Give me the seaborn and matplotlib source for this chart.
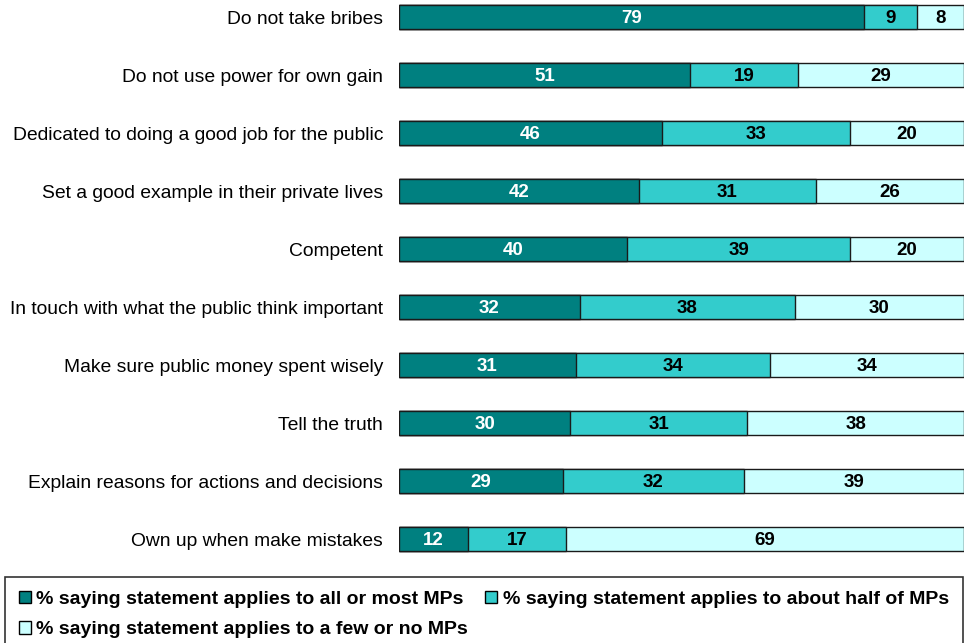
import numpy as np
import pandas as pd
import seaborn as sns
import matplotlib.pyplot as plt
from matplotlib.patches import Patch

statements = [
    "Do not take bribes",
    "Do not use power for own gain",
    "Dedicated to doing a good job for the public",
    "Set a good example in their private lives",
    "Competent",
    "In touch with what the public think important",
    "Make sure public money spent wisely",
    "Tell the truth",
    "Explain reasons for actions and decisions",
    "Own up when make mistakes",
]
all_most = [79, 51, 46, 42, 40, 32, 31, 30, 29, 12]
about_half = [9, 19, 33, 31, 39, 38, 34, 31, 32, 17]
few_none = [8, 29, 20, 26, 20, 30, 34, 38, 39, 69]

series_names = [
    "% saying statement applies to all or most MPs",
    "% saying statement applies to about half of MPs",
    "% saying statement applies to a few or no MPs",
]
colors = ["#008080", "#33CCCC", "#CCFFFF"]
text_colors = ["white", "black", "black"]

sns.set_theme(style="white")
plt.rcParams["font.family"] = ["Liberation Sans", "DejaVu Sans"]

raw = np.array([all_most, about_half, few_none], dtype=float)
share = raw / raw.sum(axis=0) * 100  # each row drawn as a 100% bar
cum = np.cumsum(share, axis=0)

W, H = 966, 643
fig = plt.figure(figsize=(W / 100, H / 100), dpi=100)
ax_left, ax_right, ax_top, ax_bottom = 399, 964, 0, 568
ax = fig.add_axes([ax_left / W, (H - ax_bottom) / H,
                   (ax_right - ax_left) / W, (ax_bottom - ax_top) / H])

# stacked: draw cumulative totals from the widest down
for i in [2, 1, 0]:
    df = pd.DataFrame({"statement": statements, "value": cum[i]})
    sns.barplot(data=df, x="value", y="statement", orient="h", ax=ax,
                color=colors[i], saturation=1, width=0.41,
                edgecolor="#1a1a1a", linewidth=1.0)

for i in range(3):
    starts = cum[i] - share[i]
    for r in range(len(statements)):
        ax.text(float(starts[r] + share[i, r] / 2), r + 0.02,
                f"{int(raw[i, r])}", ha="center", va="center",
                color=text_colors[i], fontsize=13.5, fontweight="bold")

ax.set_xlim(0, 100)
ax.set_ylim(9.5, -17 / 58)
ax.set_xlabel("")
ax.set_ylabel("")
ax.set_xticks([])
ax.tick_params(axis="y", length=0, pad=11.5, labelsize=13.9,
               labelcolor="black")
for s in ax.spines.values():
    s.set_visible(False)

handles = [Patch(facecolor=c, edgecolor="black", linewidth=1) for c in colors]
order = [0, 2, 1]
leg = fig.legend([handles[k] for k in order], [series_names[k] for k in order],
                 ncol=2, loc="upper left",
                 bbox_to_anchor=(5 / W, 0, 958 / W, (H - 577) / H),
                 mode="expand", frameon=True, fancybox=False,
                 edgecolor="black", handlelength=0.6, handleheight=0.6,
                 handletextpad=0.3, borderaxespad=0, labelspacing=0.68,
                 borderpad=0.72,
                 prop={"weight": "bold", "size": 14})
leg.get_frame().set_linewidth(1.2)
for t in leg.get_texts():
    t.set_color("black")

fig.savefig("out.png", dpi=100)
